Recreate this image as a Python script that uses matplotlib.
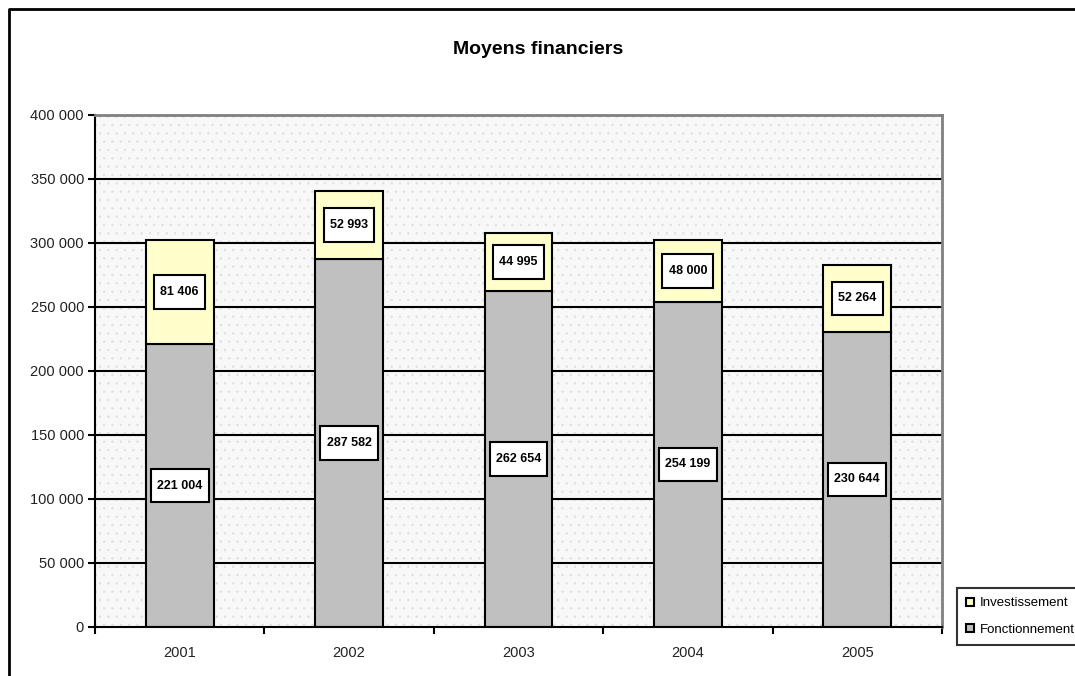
import numpy as np
import matplotlib.pyplot as plt
from matplotlib.lines import Line2D
from matplotlib.patches import Rectangle
from matplotlib.path import Path

plt.rcParams['font.family'] = ['Liberation Sans', 'DejaVu Sans']
plt.rcParams['hatch.linewidth'] = 0.5

# Data
years = ["2001", "2002", "2003", "2004", "2005"]
fonctionnement = [221004, 287582, 262654, 254199, 230644]
investissement = [81406, 52993, 44995, 48000, 52264]
yticks = [0, 50000, 100000, 150000, 200000, 250000, 300000, 350000, 400000]


def fmt(v):
    return f"{v:,}".replace(",", " ")


# label box: more vertical padding, like the original
def label_box(x0, y0, width, height, mutation_size):
    px = 0.5 * mutation_size
    py = 0.85 * mutation_size
    x0, y0 = x0 - px, y0 - py
    x1, y1 = x0 + width + 2 * px, y0 + height + 2 * py
    return Path([(x0, y0), (x1, y0), (x1, y1), (x0, y1), (x0, y0)],
                [Path.MOVETO, Path.LINETO, Path.LINETO, Path.LINETO, Path.CLOSEPOLY])


fig = plt.figure(figsize=(10.75, 6.76), dpi=100)
ax = fig.add_axes([95 / 1075, 1 - 627 / 676, 847 / 1075, 512 / 676])

# dotted background
ax.add_patch(Rectangle((0, 0), 1, 1, transform=ax.transAxes, facecolor="#f8f8f8",
                       edgecolor="#e0e0e0", hatch="..", linewidth=0, zorder=0))

x = np.arange(len(years))
for y in yticks[1:-1]:
    ax.axhline(y, color="black", linewidth=1.5, zorder=1)

ax.bar(x, fonctionnement, width=0.4, color="#c0c0c0", edgecolor="black",
       linewidth=1.5, zorder=2, label="Fonctionnement")
ax.bar(x, investissement, width=0.4, bottom=fonctionnement, color="#ffffcc",
       edgecolor="black", linewidth=1.5, zorder=2, label="Investissement")

for i in range(len(years)):
    ax.text(x[i], fonctionnement[i] / 2, fmt(fonctionnement[i]), ha="center", va="center",
            fontsize=9, fontweight="bold", zorder=5,
            bbox=dict(boxstyle=label_box, facecolor="white", edgecolor="black", linewidth=1.5))
    ax.text(x[i], fonctionnement[i] + investissement[i] / 2, fmt(investissement[i]),
            ha="center", va="center", fontsize=9, fontweight="bold", zorder=5,
            bbox=dict(boxstyle=label_box, facecolor="white", edgecolor="black", linewidth=1.5))

ax.set_xlim(-0.5, len(years) - 0.5)
ax.set_ylim(0, 400000)
ax.set_yticks(yticks)
ax.set_yticklabels([fmt(v) for v in yticks], fontsize=10.5, color="#222222")
ax.set_xticks(x)
ax.set_xticklabels(years, fontsize=10.5, color="#222222")
ax.tick_params(axis="x", which="major", length=0, pad=14)
ax.set_xticks(np.arange(-0.5, len(years)), minor=True)
ax.tick_params(axis="x", which="minor", length=5, width=1.5, direction="out")
ax.tick_params(axis="y", length=5, width=1.5, direction="out", pad=3)

for side in ["left", "bottom"]:
    ax.spines[side].set_linewidth(1.5)
    ax.spines[side].set_color("black")
for side in ["top", "right"]:
    ax.spines[side].set_linewidth(2)
    ax.spines[side].set_color("#808080")

fig.text(538 / 1075, 1 - 50 / 676, "Moyens financiers", ha="center", va="center",
         fontsize=14, fontweight="bold")

handles = [
    Line2D([], [], marker="s", linestyle="none", markersize=6, markerfacecolor="#ffffcc",
           markeredgecolor="black", markeredgewidth=1.5),
    Line2D([], [], marker="s", linestyle="none", markersize=6, markerfacecolor="#c0c0c0",
           markeredgecolor="black", markeredgewidth=1.5),
]
leg = fig.legend(handles, ["Investissement", "Fonctionnement"], loc="upper left",
                 bbox_to_anchor=(957 / 1075, 1 - 588 / 676), fontsize=9.5, frameon=True,
                 fancybox=False, edgecolor="black", handlelength=0.6, handletextpad=0.45,
                 borderpad=0.7, labelspacing=1.05, borderaxespad=0)
leg.get_frame().set_linewidth(1.5)

# outer frame (left and top only visible)
fig.add_artist(Line2D([8.5 / 1075, 8.5 / 1075, 1], [0, 1 - 8.5 / 676, 1 - 8.5 / 676],
                      color="black", linewidth=2, transform=fig.transFigure))

fig.savefig("out.png", dpi=100)
